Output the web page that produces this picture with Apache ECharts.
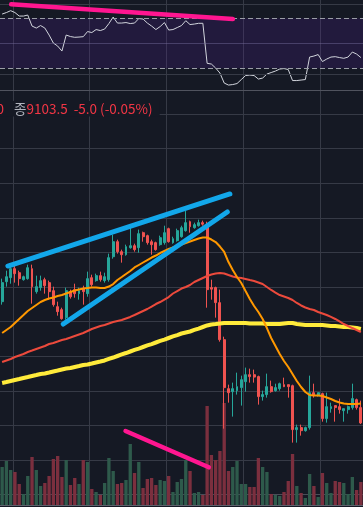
<!DOCTYPE html>
<html><head><meta charset="utf-8">
<script src="https://cdn.jsdelivr.net/npm/echarts/dist/echarts.min.js"></script>
<style>html,body{margin:0;padding:0;background:#151924;overflow:hidden}#c{width:363px;height:507px}</style>
</head><body><div id="c"></div>
<script>
// OHLC: [open, close, low, high]
const candles = [
[9278.8,9306.3,9274.5,9312.1],[9307.7,9314.9,9300.5,9323.6],[9313.5,9326.5,9304.8,9332.3],[9326.5,9319.3,9306.3,9330.8],
[9320.7,9312.1,9301.9,9323.6],[9310.6,9314.9,9309.2,9316.4],[9312.1,9327.9,9310.6,9332.3],[9326.5,9300.5,9275.9,9332.3],
[9293.3,9300.5,9290.4,9316.4],[9299.1,9309.2,9294.7,9316.4],[9310.6,9301.9,9290.4,9313.5],[9306.3,9293.3,9281.7,9309.2],
[9294.7,9274.5,9271.6,9300.5],[9271.6,9264.4,9258.6,9278.8],[9267.3,9254.2,9252.8,9270.1],[9255.7,9294.7,9252.8,9299.1],
[9293.3,9286.0,9283.2,9296.2],[9296.2,9290.4,9284.6,9304.8],[9290.4,9294.7,9281.7,9299.1],[9297.6,9293.3,9274.5,9301.9],
[9290.4,9312.1,9286.0,9322.2],[9313.5,9303.4,9300.5,9317.8],[9309.2,9316.4,9307.7,9319.3],[9316.4,9310.6,9307.7,9322.2],
[9309.2,9314.9,9306.3,9320.7],[9310.6,9342.4,9307.7,9348.2],[9343.8,9365.5,9340.9,9375.6],[9365.5,9351.1,9348.2,9368.4],
[9351.1,9346.7,9335.2,9354.0],[9346.7,9358.3,9345.3,9361.2],[9356.8,9359.7,9355.4,9385.7],[9359.7,9354.0,9351.1,9362.6],
[9356.8,9377.1,9349.6,9382.9],[9378.5,9372.7,9365.5,9380.0],[9374.2,9364.1,9361.2,9375.6],[9365.5,9361.2,9346.7,9368.4],
[9364.1,9354.0,9352.5,9365.5],[9361.2,9371.3,9359.7,9374.2],[9364.1,9378.5,9361.2,9388.6],[9384.3,9365.5,9364.1,9385.7],
[9364.1,9369.8,9362.6,9372.7],[9367.0,9381.4,9365.5,9384.3],[9372.7,9385.7,9371.3,9388.6],[9381.4,9393.0,9380.0,9409.8],
[9394.4,9387.2,9378.5,9395.9],[9385.7,9390.1,9384.3,9393.0],[9388.6,9393.0,9387.2,9397.3],[9393.0,9390.8,9388.6,9395.9],
[9390.1,9296.2,9270.1,9394.4],[9299.1,9296.9,9281.7,9310.6],[9299.1,9277.4,9255.7,9300.5],[9277.4,9223.9,9221.0,9296.2],
[9223.9,9154.6,9095.3,9228.2],[9153.1,9147.3,9132.9,9158.9],[9148.8,9153.1,9112.7,9161.8],[9150.2,9156.0,9144.5,9176.2],
[9154.6,9166.1,9128.6,9171.9],[9163.2,9173.3,9148.8,9183.5],[9173.3,9170.5,9161.8,9182.0],[9173.3,9169.8,9161.8,9180.6],
[9170.5,9141.6,9130.0,9171.9],[9141.6,9144.5,9135.8,9150.2],[9144.5,9156.0,9140.1,9174.8],[9156.0,9148.8,9147.3,9164.7],
[9150.2,9154.6,9148.8,9160.3],[9153.1,9160.3,9150.2,9161.8],[9158.9,9156.0,9155.3,9169.0],[9158.9,9156.0,9140.1,9158.9],
[9157.4,9093.9,9075.1,9158.9],[9093.9,9096.8,9075.1,9101.1],[9096.8,9092.4,9085.2,9101.1],[9092.4,9096.8,9091.0,9098.2],
[9096.8,9147.3,9093.9,9171.9],[9147.3,9143.0,9140.1,9160.3],[9143.0,9147.3,9141.6,9147.3],[9145.9,9109.8,9105.4,9147.3],
[9109.8,9127.1,9104.0,9147.3],[9124.2,9127.1,9118.4,9132.9],[9128.6,9125.7,9105.4,9128.6],[9127.1,9122.8,9117.0,9138.7],
[9121.3,9124.2,9105.4,9124.2],[9122.8,9127.1,9117.0,9128.6],[9125.7,9138.7,9122.8,9160.3],[9137.2,9125.7,9122.8,9138.7],
[9125.7,9103.5,9102.0,9135.8]
];
const volumes = [
3800,4400,3500,3300,2100,1100,2900,4800,3500,1900,2200,2900,4600,4900,2800,4500,2000,2700,2100,4500,
4300,1600,1300,1000,2200,4700,3400,2100,2200,2500,6100,3200,4300,1700,2600,2700,2000,2500,2400,2900,
1300,2300,2600,4500,3400,1200,1300,1000,9900,5000,4500,5400,10200,3400,3800,4400,2100,2100,1800,1800,
4700,3800,3300,1100,1000,900,1300,2400,5100,1900,1200,700,3100,1900,800,3200,2200,1200,2400,2300,
2200,1100,2800,1500,2300
];
const maShort = [
9233.5,9237.9,9242.2,9248.0,9253.8,9259.5,9265.3,9269.7,9274.0,9278.3,
9281.2,9283.4,9284.8,9287.0,9288.4,9290.6,9292.8,9294.9,9296.4,9297.8,
9298.5,9299.3,9299.3,9298.5,9298.5,9300.7,9304.3,9310.1,9314.4,9318.8,
9323.1,9328.2,9331.8,9335.4,9339.0,9342.6,9345.5,9349.1,9352.0,9354.9,
9357.1,9359.2,9361.4,9363.6,9365.7,9367.9,9370.1,9371.5,9371.5,9368.6,
9365.0,9358.5,9350.6,9336.1,9324.6,9314.4,9305.8,9294.2,9282.7,9272.5,
9263.9,9253.8,9240.7,9226.3,9214.7,9203.2,9193.1,9184.4,9174.3,9164.2,
9155.5,9148.3,9143.9,9143.2,9143.2,9142.5,9140.3,9138.1,9135.3,9133.1,
9131.6,9130.8,9130.8,9130.8,9131.6
];
const maMid = [
9191.6,9193.8,9196.0,9198.8,9201.0,9203.2,9206.1,9208.2,9210.4,9212.6,
9214.7,9217.6,9219.1,9221.2,9223.4,9224.9,9227.0,9229.2,9231.4,9233.5,
9236.4,9239.3,9241.5,9243.6,9245.1,9247.3,9249.4,9250.9,9252.3,9254.5,
9256.7,9259.5,9262.4,9265.3,9268.2,9271.8,9275.4,9278.3,9281.9,9285.5,
9290.6,9294.2,9297.8,9300.0,9302.9,9307.2,9310.1,9313.0,9315.9,9318.1,
9319.5,9320.2,9319.5,9317.3,9315.2,9313.7,9313.0,9311.6,9310.1,9308.7,
9306.5,9304.3,9300.0,9295.7,9292.0,9288.4,9286.3,9284.1,9281.2,9276.9,
9273.3,9270.4,9268.2,9266.8,9263.9,9261.7,9259.5,9256.7,9253.8,9250.2,
9246.5,9243.6,9240.7,9237.9,9235.0
];
const maLong = [
9161.3,9162.7,9164.2,9165.6,9167.0,9168.5,9169.9,9171.4,9172.8,9174.3,
9175.0,9176.4,9177.9,9179.3,9180.8,9182.2,9182.9,9184.4,9185.8,9187.3,
9188.0,9189.4,9190.9,9192.3,9193.8,9196.0,9198.1,9200.3,9202.5,9204.6,
9206.8,9209.0,9211.1,9213.3,9215.5,9217.6,9219.8,9222.0,9224.1,9226.3,
9228.5,9230.6,9232.8,9234.3,9235.7,9237.9,9240.0,9242.2,9244.4,9245.8,
9246.5,9247.3,9248.0,9248.0,9248.0,9248.0,9248.0,9248.0,9247.3,9247.3,
9247.3,9247.3,9246.5,9246.5,9246.5,9246.5,9247.3,9248.0,9248.0,9246.5,
9245.8,9245.1,9245.1,9245.1,9245.1,9245.1,9244.4,9243.6,9243.6,9242.9,
9242.2,9242.2,9241.5,9240.7,9239.3
];
const rsi = [
73.4,74.6,76.1,74.6,71.8,71.8,72.6,63.8,62.2,64.2,
62.2,56.6,50.2,47.8,43.8,56.6,55.4,54.8,55.0,55.3,
59.4,58.6,61.0,60.2,61.4,65.8,71.0,66.2,66.2,66.6,
65.8,66.2,69.8,69.4,66.2,63.8,61.0,63.4,66.6,60.6,
61.0,62.6,64.2,68.1,65.0,65.4,66.0,66.0,34.0,33.4,
30.2,26.2,18.2,16.6,17.0,17.8,21.0,24.2,24.6,24.2,
21.4,22.2,25.4,26.6,27.8,29.4,29.8,29.0,20.2,20.2,
20.6,21.0,39.0,39.8,41.0,35.4,37.4,39.0,39.3,38.6,
38.0,39.0,43.0,41.4,38.6
];
const rsiLevels = [81.4, 70, 50, 30, 25.4];
// Hand-drawn annotations in data coordinates: [barIndex, value]
const trendRsi = [[2.12, 81.2], [54.03, 69.4]];
const trendUpper = [[1.35, 9330.3], [53.33, 9434.4]];
const trendLower = [[14.32, 9246.5], [52.72, 9408.4]];
const trendVolume = [[28.9, 7400], [48.4, 3770]];
const categories = candles.map((_, i) => String(i + 1));

const BG = '#151924', GRID = '#363a46';
const UP = '#26a69a', DOWN = '#ef5350';
const BLUE = '#12a7ea', PINK = '#ff1690';
const N = candles.length;
const gx = { left: -1.948, width: 365.2 };
const vSplit = { show: true, interval: (i) => i % 18 === 3, lineStyle: { color: GRID, width: 1 } };
const hidden = { show: false };

const chart = echarts.init(document.getElementById('c'), null, { renderer: 'canvas' });
chart.setOption({
  animation: false,
  backgroundColor: BG,
  grid: [
    Object.assign({ top: 0, height: 90 }, gx),
    Object.assign({ top: 114, height: 380.6 }, gx),
    Object.assign({ top: 90, height: 415 }, gx)
  ],
  xAxis: [
    { type: 'category', gridIndex: 0, data: categories, axisLine: hidden, axisTick: hidden, axisLabel: hidden, splitLine: vSplit },
    { type: 'category', gridIndex: 1, data: categories, axisLine: hidden, axisTick: hidden, axisLabel: hidden, splitLine: hidden },
    { type: 'category', gridIndex: 2, data: categories, axisLine: { show: true, lineStyle: { color: '#5d606b' } }, axisTick: hidden, axisLabel: hidden, splitLine: vSplit },
    { type: 'value', gridIndex: 0, min: -0.5, max: N - 0.5, show: false },
    { type: 'value', gridIndex: 1, min: -0.5, max: N - 0.5, show: false },
    { type: 'value', gridIndex: 2, min: -0.5, max: N - 0.5, show: false }
  ],
  yAxis: [
    { type: 'value', gridIndex: 0, min: 12.64, max: 84.64, show: false, splitLine: hidden },
    { type: 'value', gridIndex: 1, min: 9000, max: 9550, interval: 50, axisLine: hidden, axisTick: hidden, axisLabel: hidden,
      splitLine: { show: true, lineStyle: { color: ['#4a4d58', GRID, GRID, GRID, GRID, GRID, GRID, GRID, GRID, GRID, GRID, GRID] } } },
    { type: 'value', gridIndex: 2, min: 0, max: 41500, show: false, splitLine: hidden }
  ],
  series: [
    { type: 'bar', name: 'Volume', xAxisIndex: 2, yAxisIndex: 2, barWidth: '78%', z: 1,
      data: volumes.map((v, i) => ({ value: v, itemStyle: { color: candles[i][1] >= candles[i][0] ? '#2e5a4b' : '#7b2f3e' } })) },
    { type: 'candlestick', name: 'Price', xAxisIndex: 1, yAxisIndex: 1, barWidth: 2.4, z: 2, data: candles,
      itemStyle: { color: UP, color0: DOWN, borderColor: UP, borderColor0: DOWN, borderWidth: 1 } },
    { type: 'line', name: 'MA long', xAxisIndex: 1, yAxisIndex: 1, data: maLong, symbol: 'none', z: 3,
      lineStyle: { color: '#ffeb3b', width: 4 } },
    { type: 'line', name: 'MA mid', xAxisIndex: 1, yAxisIndex: 1, data: maMid, symbol: 'none', z: 3,
      lineStyle: { color: '#ec4a3c', width: 2 } },
    { type: 'line', name: 'MA short', xAxisIndex: 1, yAxisIndex: 1, data: maShort, symbol: 'none', z: 3,
      lineStyle: { color: '#ff9800', width: 2 } },
    { type: 'line', name: 'RSI', xAxisIndex: 0, yAxisIndex: 0, data: rsi, symbol: 'none', z: 3,
      lineStyle: { color: '#d1d4dc', width: 1 },
      markArea: { silent: true, itemStyle: { color: 'rgba(80,30,150,0.22)' }, data: [[{ yAxis: 30 }, { yAxis: 70 }]] },
      markLine: { silent: true, symbol: 'none', label: hidden, animation: false,
        data: rsiLevels.map(v => ({ yAxis: v, lineStyle: (v === 70 || v === 30)
          ? { color: '#9a9da6', type: [5, 3], width: 1 }
          : (v === 50 ? { color: 'rgba(120,110,160,0.45)', type: 'solid', width: 1 } : { color: GRID, type: 'solid', width: 1 }) })) } },
    { type: 'line', xAxisIndex: 3, yAxisIndex: 0, data: trendRsi, symbol: 'none', z: 5, silent: true,
      lineStyle: { color: PINK, width: 4.5, cap: 'round' } },
    { type: 'line', xAxisIndex: 4, yAxisIndex: 1, data: trendUpper, symbol: 'none', z: 5, silent: true,
      lineStyle: { color: BLUE, width: 5, cap: 'round' } },
    { type: 'line', xAxisIndex: 4, yAxisIndex: 1, data: trendLower, symbol: 'none', z: 5, silent: true,
      lineStyle: { color: BLUE, width: 5, cap: 'round' } },
    { type: 'line', xAxisIndex: 5, yAxisIndex: 2, data: trendVolume, symbol: 'none', z: 5, silent: true,
      lineStyle: { color: PINK, width: 4.5, cap: 'round' } }
  ],
  graphic: [
    { type: 'line', z: 10, silent: true, shape: { x1: 0, y1: 90.5, x2: 363, y2: 90.5 }, style: { stroke: '#50535e', lineWidth: 1 } },
    { type: 'text', z: 10, silent: true, left: -3.5, top: 101,
      style: { text: '{r|0}{sp|}{g|종}{r|9103.5  -5.0 (-0.05%)}', backgroundColor: BG, padding: [1, 7, 1, 0],
        rich: {
          r: { fill: '#f23645', fontSize: 13.5, fontFamily: 'Noto Sans CJK KR, Noto Sans, sans-serif' },
          sp: { width: 10 },
          g: { fill: '#b2b5be', fontSize: 13.5, fontFamily: 'Noto Sans CJK KR, sans-serif' }
        } } }
  ]
});
</script></body></html>
